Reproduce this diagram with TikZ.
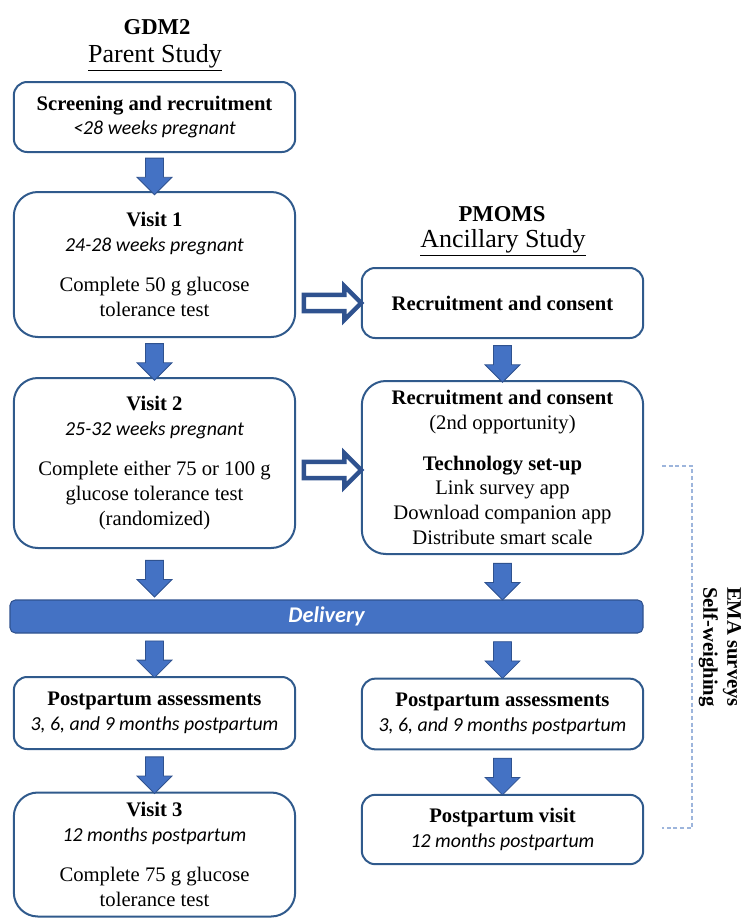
\documentclass[tikz,border=0pt]{standalone}
\usepackage{fontspec}
\setmainfont{Liberation Serif}
\newfontfamily\calibri[Scale=0.96]{Carlito}
\usetikzlibrary{shapes.arrows}

\definecolor{boxblue}{HTML}{305A8C}
\definecolor{arrowblue}{HTML}{4472C4}
\definecolor{arrowedge}{HTML}{2F528F}
\definecolor{dashblue}{HTML}{9DB5DC}

\newcommand{\subtxt}[1]{{\calibri\itshape #1}}

\begin{document}
\begin{tikzpicture}[x=0.75pt,y=-0.75pt,
  box/.style={draw=boxblue, line width=1.5pt, rounded corners=10pt, align=center,
    minimum width=211pt, inner sep=0pt, font=\fontsize{15.5}{18.5}\selectfont},
  bigbox/.style={box, rounded corners=18pt},
  head/.style={font=\fontsize{17}{20}\selectfont},
  downarrow/.style={single arrow, fill=arrowblue, draw=arrowedge, line width=0.6pt,
    rotate=-90, minimum height=27.5pt, minimum width=25.5pt, inner sep=6.4pt,
    single arrow head extend=6.4pt},
  hollowarrow/.style={single arrow, fill=white, draw=arrowedge, line width=3.4pt,
    minimum height=43pt, minimum width=25pt, inner sep=4.4pt,
    single arrow head extend=6.5pt},
  bracket/.style={draw=dashblue, line width=1.1pt, dash pattern=on 3pt off 2pt}]
\useasboundingbox (0,0) rectangle (743,918);

% Headers
\node[head] (gdm) at (157,27) {\textbf{GDM2}};
\node[head, font=\fontsize{19.5}{22}\selectfont] (parent) at (155,58) {\underline{Parent Study}};
\node[head] (pmoms) at (502,214) {\textbf{PMOMS}};
\node[head, font=\fontsize{19.5}{22}\selectfont] (ancillary) at (503,243) {\underline{Ancillary Study}};

% Parent study
\node[box, minimum height=52.5pt] (screen) at (154.5,117)
  {\textbf{Screening and recruitment}\\\subtxt{<28 weeks pregnant}};
\node[bigbox, minimum height=108.75pt] (visit1) at (154.5,264.5)
  {\textbf{Visit 1}\\\subtxt{24-28 weeks pregnant}\\[12pt]Complete 50 g glucose\\tolerance test};
\node[bigbox, minimum height=127.5pt] (visit2) at (154.5,463)
  {\textbf{Visit 2}\\\subtxt{25-32 weeks pregnant}\\[12pt]Complete either 75 or 100 g\\glucose tolerance test\\(randomized)};
\node[box, minimum height=54pt] (assess1) at (154.5,713)
  {\textbf{Postpartum assessments}\\\subtxt{3, 6, and 9 months postpartum}};
\node[bigbox, minimum height=93pt] (visit3) at (154.5,854.5)
  {\textbf{Visit 3}\\\subtxt{12 months postpartum}\\[12pt]Complete 75 g glucose\\tolerance test};

% Ancillary study
\node[box, minimum height=52.5pt] (recruit) at (502.5,303)
  {\textbf{Recruitment and consent}};
\node[bigbox, minimum height=129.75pt] (techsetup) at (502.5,467.5)
  {\textbf{Recruitment and consent}\\(2nd opportunity)\\[12pt]\textbf{Technology set-up}\\Link survey app\\Download companion app\\Distribute smart scale};
\node[box, minimum height=53pt] (assess2) at (502.5,714)
  {\textbf{Postpartum assessments}\\\subtxt{3, 6, and 9 months postpartum}};
\node[box, minimum height=52pt] (ppvisit) at (502.5,829.5)
  {\textbf{Postpartum visit}\\\subtxt{12 months postpartum}};

% Delivery
\node[fill=arrowblue, draw=arrowedge, line width=0.8pt, rounded corners=4pt,
  minimum width=474.75pt, minimum height=24.75pt, text=white,
  font=\fontsize{17.5}{20}\selectfont] (delivery) at (326.5,616.5)
  {\calibri\bfseries\itshape Delivery};

% Arrows
\path (screen.south) -- (visit1.north) node[midway, downarrow] {};
\path (visit1.south) -- (visit2.north) node[midway, downarrow] {};
\path (visit2.south) -- (visit2.south |- delivery.north) node[midway, downarrow] {};
\path (visit2.south |- delivery.south) -- (assess1.north) node[midway, downarrow] {};
\path (assess1.south) -- (visit3.north) node[midway, downarrow] {};
\path (recruit.south) -- (techsetup.north) node[midway, downarrow] {};
\path (techsetup.south) -- (techsetup.south |- delivery.north) node[midway, downarrow] {};
\path (techsetup.south |- delivery.south) -- (assess2.north) node[midway, downarrow] {};
\path (assess2.south) -- (ppvisit.north) node[midway, downarrow] {};
\path (visit1.east |- recruit) -- (recruit.west) node[midway, hollowarrow] {};
\path (visit2.east |- 0,470) -- (techsetup.west |- 0,470) node[midway, hollowarrow] {};

% EMA bracket
\coordinate (ematop) at (662,466);
\coordinate (emabot) at (662,828);
\draw[bracket] (ematop) -- ++(30,0) |- (emabot);
\node[rotate=-90, align=center, font=\bfseries\fontsize{15.5}{18}\selectfont] (ema) at (720,647)
  {EMA surveys\\Self-weighing};
\end{tikzpicture}
\end{document}
